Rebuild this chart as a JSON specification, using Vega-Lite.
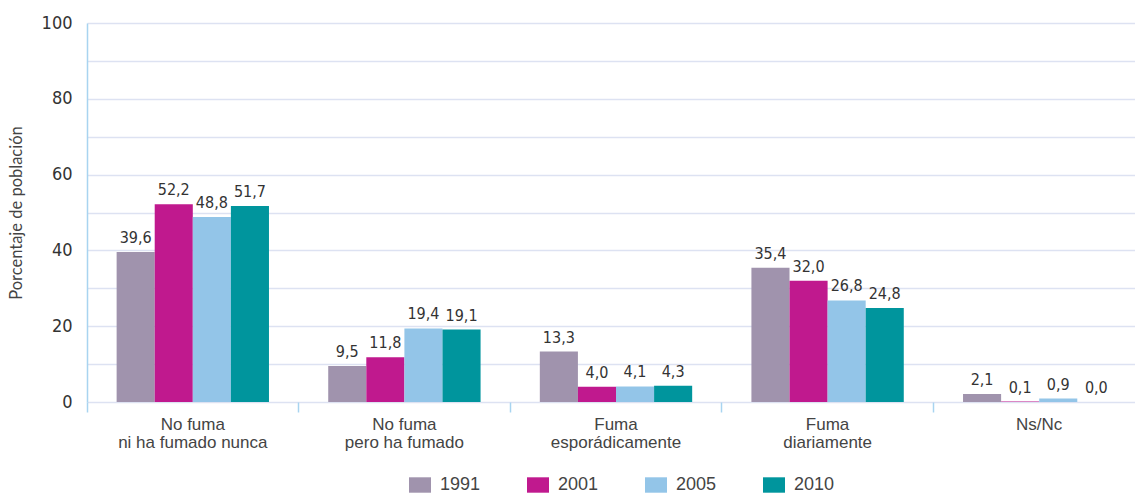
{
  "$schema": "https://vega.github.io/schema/vega-lite/v6.json",
  "width": 1058,
  "height": 379,
  "autosize": "none",
  "padding": {"left": 87, "top": 23, "right": 0, "bottom": 92},
  "background": "white",
  "data": {"values": [
    {"cat": "No fuma|ni ha fumado nunca", "year": "1991", "v": 39.6},
    {"cat": "No fuma|ni ha fumado nunca", "year": "2001", "v": 52.2},
    {"cat": "No fuma|ni ha fumado nunca", "year": "2005", "v": 48.8},
    {"cat": "No fuma|ni ha fumado nunca", "year": "2010", "v": 51.7},
    {"cat": "No fuma|pero ha fumado", "year": "1991", "v": 9.5},
    {"cat": "No fuma|pero ha fumado", "year": "2001", "v": 11.8},
    {"cat": "No fuma|pero ha fumado", "year": "2005", "v": 19.4},
    {"cat": "No fuma|pero ha fumado", "year": "2010", "v": 19.1},
    {"cat": "Fuma|esporádicamente", "year": "1991", "v": 13.3},
    {"cat": "Fuma|esporádicamente", "year": "2001", "v": 4.0},
    {"cat": "Fuma|esporádicamente", "year": "2005", "v": 4.1},
    {"cat": "Fuma|esporádicamente", "year": "2010", "v": 4.3},
    {"cat": "Fuma|diariamente", "year": "1991", "v": 35.4},
    {"cat": "Fuma|diariamente", "year": "2001", "v": 32.0},
    {"cat": "Fuma|diariamente", "year": "2005", "v": 26.8},
    {"cat": "Fuma|diariamente", "year": "2010", "v": 24.8},
    {"cat": "Ns/Nc", "year": "1991", "v": 2.1},
    {"cat": "Ns/Nc", "year": "2001", "v": 0.1},
    {"cat": "Ns/Nc", "year": "2005", "v": 0.9},
    {"cat": "Ns/Nc", "year": "2010", "v": 0.0}
  ]},
  "encoding": {
    "x": {
      "field": "cat", "type": "nominal", "sort": null,
      "scale": {"paddingInner": 0.28, "paddingOuter": 0.14},
      "axis": {
        "title": null, "labelAngle": 0, "domain": false,
        "labelExpr": "split(datum.label, '|')",
        "labelFont": "Liberation Sans", "labelFontSize": 17, "labelColor": "#444444",
        "labelLineHeight": 18, "labelPadding": 4,
        "ticks": true, "bandPosition": -0.194, "tickSize": 10, "tickColor": "#a8d4f0", "tickWidth": 1.5
      }
    },
    "xOffset": {"field": "year", "type": "nominal"},
    "y": {
      "field": "v", "type": "quantitative",
      "scale": {"domain": [0, 100], "nice": false},
      "axis": {
        "title": "Porcentaje de población", "titleFont": "Lato", "titleFontSize": 16.5, "titleFontWeight": "normal",
        "titleColor": "#444444", "titlePadding": 17,
        "values": [0, 10, 20, 30, 40, 50, 60, 70, 80, 90, 100],
        "labelExpr": "datum.value % 20 == 0 ? datum.label : ''",
        "labelFont": "DejaVu Sans Condensed, sans-serif", "labelFontSize": 18, "labelColor": "#333333",
        "labelPadding": 15, "ticks": false,
        "domain": true, "domainColor": "#a8d4f0", "domainWidth": 1.5,
        "grid": true, "gridColor": "#dde2f2", "gridWidth": 1.5
      }
    },
    "color": {
      "field": "year", "type": "nominal",
      "scale": {"domain": ["1991", "2001", "2005", "2010"], "range": ["#a093ad", "#c0198e", "#93c5e8", "#00959d"]},
      "legend": {
        "title": null, "orient": "none", "direction": "horizontal",
        "legendX": 322, "legendY": 451,
        "symbolType": "M-1,-0.7L1,-0.7L1,0.7L-1,0.7Z", "symbolSize": 484, "symbolStrokeWidth": 0,
        "labelFont": "Liberation Sans", "labelFontSize": 18, "labelColor": "#444444", "labelOffset": 9,
        "columnPadding": 46
      }
    }
  },
  "layer": [
    {"mark": {"type": "bar"}},
    {
      "mark": {"type": "text", "baseline": "bottom", "dy": -6, "font": "DejaVu Sans Condensed, sans-serif", "fontSize": 16, "color": "#333333"},
      "encoding": {"text": {"field": "v", "type": "quantitative", "format": ".1f"}, "color": {"value": "#333333"}}
    }
  ],
  "config": {
    "view": {"stroke": null},
    "locale": {"number": {"decimal": ",", "thousands": ".", "grouping": [3], "currency": ["", " €"]}}
  }
}
